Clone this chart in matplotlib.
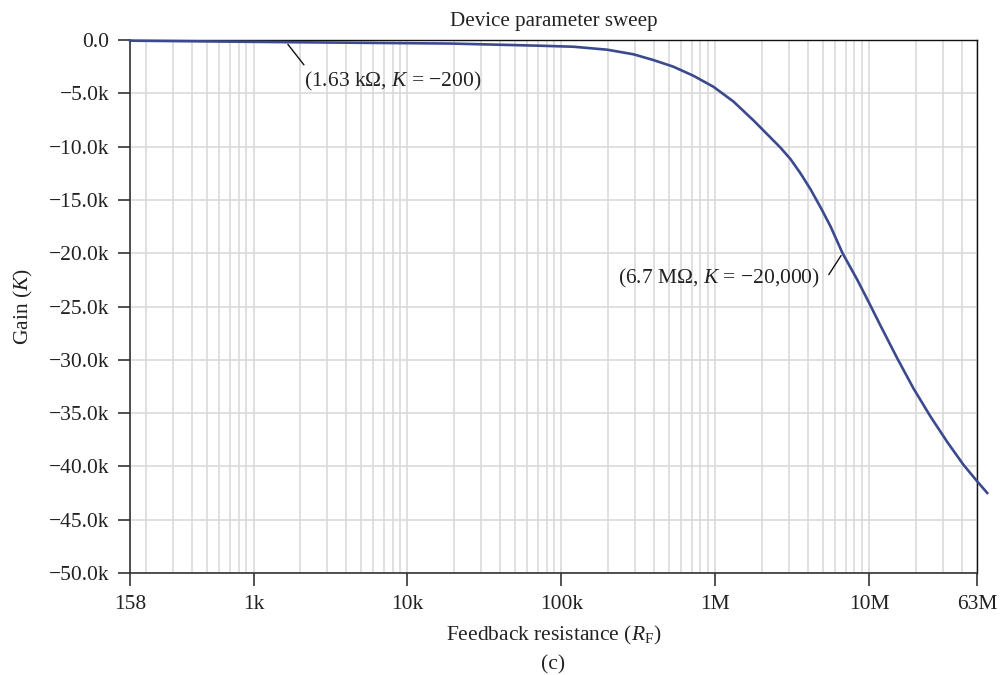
"""Gain of the amplifier versus feedback resistance (device parameter sweep)."""

import matplotlib.pyplot as plt
from matplotlib.ticker import FixedLocator, LogLocator, NullFormatter

# Curve (resistance in ohm, gain K)
r_feedback = [158, 1.63e3, 19e3, 73e3, 120e3, 199e3, 294e3, 396e3, 533e3,
              719e3, 970e3, 1.31e6, 1.77e6, 2.28e6, 2.64e6, 3.07e6, 3.56e6,
              4.14e6, 4.81e6, 5.58e6, 6.7e6, 8.36e6, 9.86e6, 11.8e6, 15.2e6,
              19.3e6, 24.9e6, 32.1e6, 40.7e6, 50.2e6, 58.3e6]
gain = [-60, -200, -330, -535, -630, -910, -1340, -1880, -2500,
        -3350, -4380, -5770, -7550, -9150, -10080, -11160, -12480,
        -13980, -15670, -17450, -20000, -22510, -24530, -26780, -29880,
        -32660, -35300, -37720, -39820, -41410, -42490]

x_ticks = [158, 1e3, 1e4, 1e5, 1e6, 1e7, 5.0e7]
x_labels = ["158", "1k", "10k", "100k", "1M", "10M", "63M"]
y_ticks = [0, -5000, -10000, -15000, -20000, -25000, -30000, -35000,
           -40000, -45000, -50000]
y_labels = ["0.0"] + ["\u2212%.1fk" % (abs(v) / 1000.0) for v in y_ticks[1:]]

# annotated points
marks = [(1.63e3, -200), (6.7e6, -20000)]
mark_labels = ["(1.63 k\u03a9, $K$ = \u2212200)",
               "(6.7 M\u03a9, $K$ = \u221220,000)"]


def main(outfile="out.png"):
    plt.rcParams['font.family'] = ['Liberation Serif', 'DejaVu Serif']
    plt.rcParams['mathtext.fontset'] = 'custom'
    plt.rcParams['mathtext.rm'] = 'Liberation Serif'
    plt.rcParams['mathtext.it'] = 'Liberation Serif:italic'
    plt.rcParams['font.size'] = 15.5

    fig = plt.figure(figsize=(10.01, 6.75), dpi=100)
    ax = fig.add_axes([0.130, 0.1511, 0.846, 0.7896])

    ax.plot(r_feedback, gain, color="#3b4a8e", lw=1.9, clip_on=False,
            zorder=3)

    ax.set_xscale("log")
    ax.set_xlim(158, 5.0e7)
    ax.set_ylim(-50000, 0)

    ax.xaxis.set_major_locator(FixedLocator(x_ticks))
    ax.set_xticklabels(x_labels)
    ax.xaxis.set_minor_locator(LogLocator(base=10, subs=range(2, 10)))
    ax.xaxis.set_minor_formatter(NullFormatter())
    ax.set_yticks(y_ticks)
    ax.set_yticklabels(y_labels)

    # Grids: minor + major vertical, major horizontal
    ax.grid(True, which="major", color="#dadada", lw=1.2, zorder=0)
    ax.grid(True, which="minor", axis="x", color="#dadada", lw=1.2, zorder=0)
    ax.set_axisbelow(True)

    ax.tick_params(which="major", length=9, width=1.2, color="#333333",
                   labelcolor="#222222")
    ax.tick_params(axis="x", which="major", pad=7)
    ax.tick_params(axis="y", which="major", pad=6)
    ax.tick_params(which="minor", length=0)
    for side in ["left", "bottom"]:
        ax.spines[side].set_color("#333333")
        ax.spines[side].set_linewidth(1.2)
    for side in ["top", "right"]:
        ax.spines[side].set_color("#111111")
        ax.spines[side].set_linewidth(1.0)

    ax.set_title("Device parameter sweep", color="#222222", pad=10,
                 fontsize=15.1)
    ax.set_xlabel("Feedback resistance ($R_\\mathrm{F}$)", color="#222222",
                  labelpad=7)
    ax.set_ylabel("Gain ($K$)", color="#222222", labelpad=10)
    fig.text(0.553, 1 - 665 / 675.0, "(c)", ha="center", va="center",
             color="#222222")

    # Leader lines and labels for the two marked points
    ax.annotate("", xy=marks[0], xytext=(2.18e3, -2530),
                arrowprops=dict(arrowstyle="-", color="#111111", lw=1.0))
    ax.text(2.14e3, -3850, mark_labels[0], ha="left", va="center",
            color="#222222")
    ax.annotate("", xy=marks[1], xytext=(5.33e6, -22230),
                arrowprops=dict(arrowstyle="-", color="#111111", lw=1.0))
    ax.text(4.81e6, -22330, mark_labels[1], ha="right", va="center",
            color="#222222")

    fig.savefig(outfile, dpi=100)


if __name__ == "__main__":
    main()
